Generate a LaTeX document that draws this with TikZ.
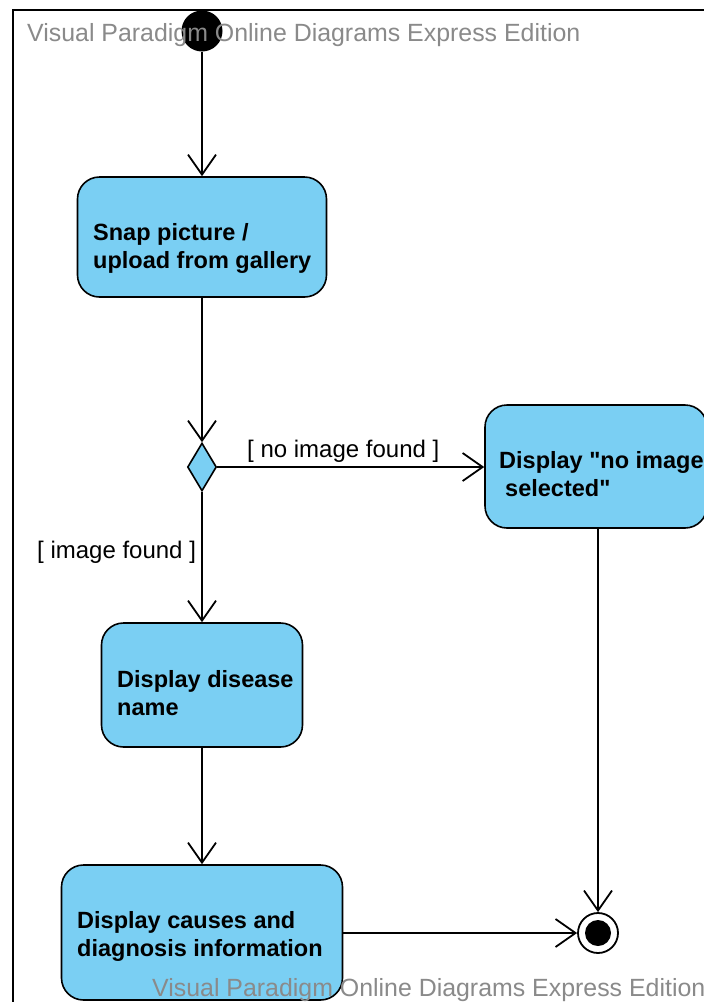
\documentclass[tikz,border=0pt]{standalone}
\usepackage{fontspec}
\setmainfont{Liberation Sans}
\usetikzlibrary{arrows.meta,shapes.geometric}
\definecolor{actfill}{RGB}{122,207,243}
\definecolor{wmgray}{RGB}{138,138,138}
\begin{document}
\begin{tikzpicture}[x=1pt,y=-1pt,
  act/.style={draw=black, line width=1.6pt, fill=actfill, rounded corners=22pt, inner sep=0pt},
  acttext/.style={anchor=base west, align=left, inner sep=0pt,
    font=\fontsize{23.5}{28}\selectfont\bfseries},
  flow/.style={draw=black, line width=1.8pt,
    -{Straight Barb[length=20pt,width=28pt,line width=1.8pt]}},
  guard/.style={anchor=base west, inner sep=0pt, font=\fontsize{24}{28}\selectfont},
  wm/.style={anchor=base west, inner sep=0pt, text=wmgray, font=\fontsize{24.9}{28}\selectfont}]
\useasboundingbox[fill=white] (0,0) rectangle (704,1002);
% diagram frame
\draw[line width=2pt] (13,1010) -- (13,10) -- (712,10);

% activities
\node[act, minimum width=249pt, minimum height=120pt] (snap) at (202,237) {};
\node[act, minimum width=222pt, minimum height=123pt] (noimg) at (596,466.5) {};
\node[act, minimum width=201pt, minimum height=124pt] (disease) at (202,685) {};
\node[act, minimum width=281pt, minimum height=135pt] (causes) at (202,932.5) {};

% decision, initial and final nodes
\node[diamond, draw=black, fill=actfill, line width=1.6pt, inner sep=0pt,
  minimum width=29pt, minimum height=48pt] (dec) at (202,467) {};
\node[circle, fill=black, inner sep=0pt, minimum size=41pt] (start) at (202,31) {};
\node[circle, draw=black, fill=white, line width=1.8pt, inner sep=0pt,
  minimum size=40pt] (end) at (598,933) {};
\fill[black] (end) circle (13pt);

% activity texts (anchored on the baseline of their last line)
\node[acttext] (snapT) at (93,268) {Snap picture /\\upload from gallery};
\node[acttext] (noimgT) at (499,496) {Display \textquotedbl no image\\\hspace{6pt}selected\textquotedbl};
\node[acttext] (diseaseT) at (117,715) {Display disease\\name};
\node[acttext] (causesT) at (77,956) {Display causes and\\diagnosis information};

% control flows
\draw[flow] (start.south) -- (start.south |- snap.north);
\draw[flow] (snap.south -| dec.north) -- (dec.north);
\draw[flow] (dec.east) -- (dec.east -| noimg.west);
\draw[flow] (dec.south) -- (dec.south |- disease.north);
\draw[flow] (disease.south) -- (causes.north);
\draw[flow] (noimg.south -| end.north) -- (end.north);
\draw[flow] (causes.east |- end.west) -- (end.west);

% guards
\node[guard] (gNo) at (247,457) {[ no image found ]};
\node[guard] (gYes) at (37,558) {[ image found ]};

% edition marks
\node[wm] (wmTop) at (27,41) {Visual Paradigm Online Diagrams Express Edition};
\node[wm] (wmBot) at (152,996) {Visual Paradigm Online Diagrams Express Edition};
\end{tikzpicture}
\end{document}
